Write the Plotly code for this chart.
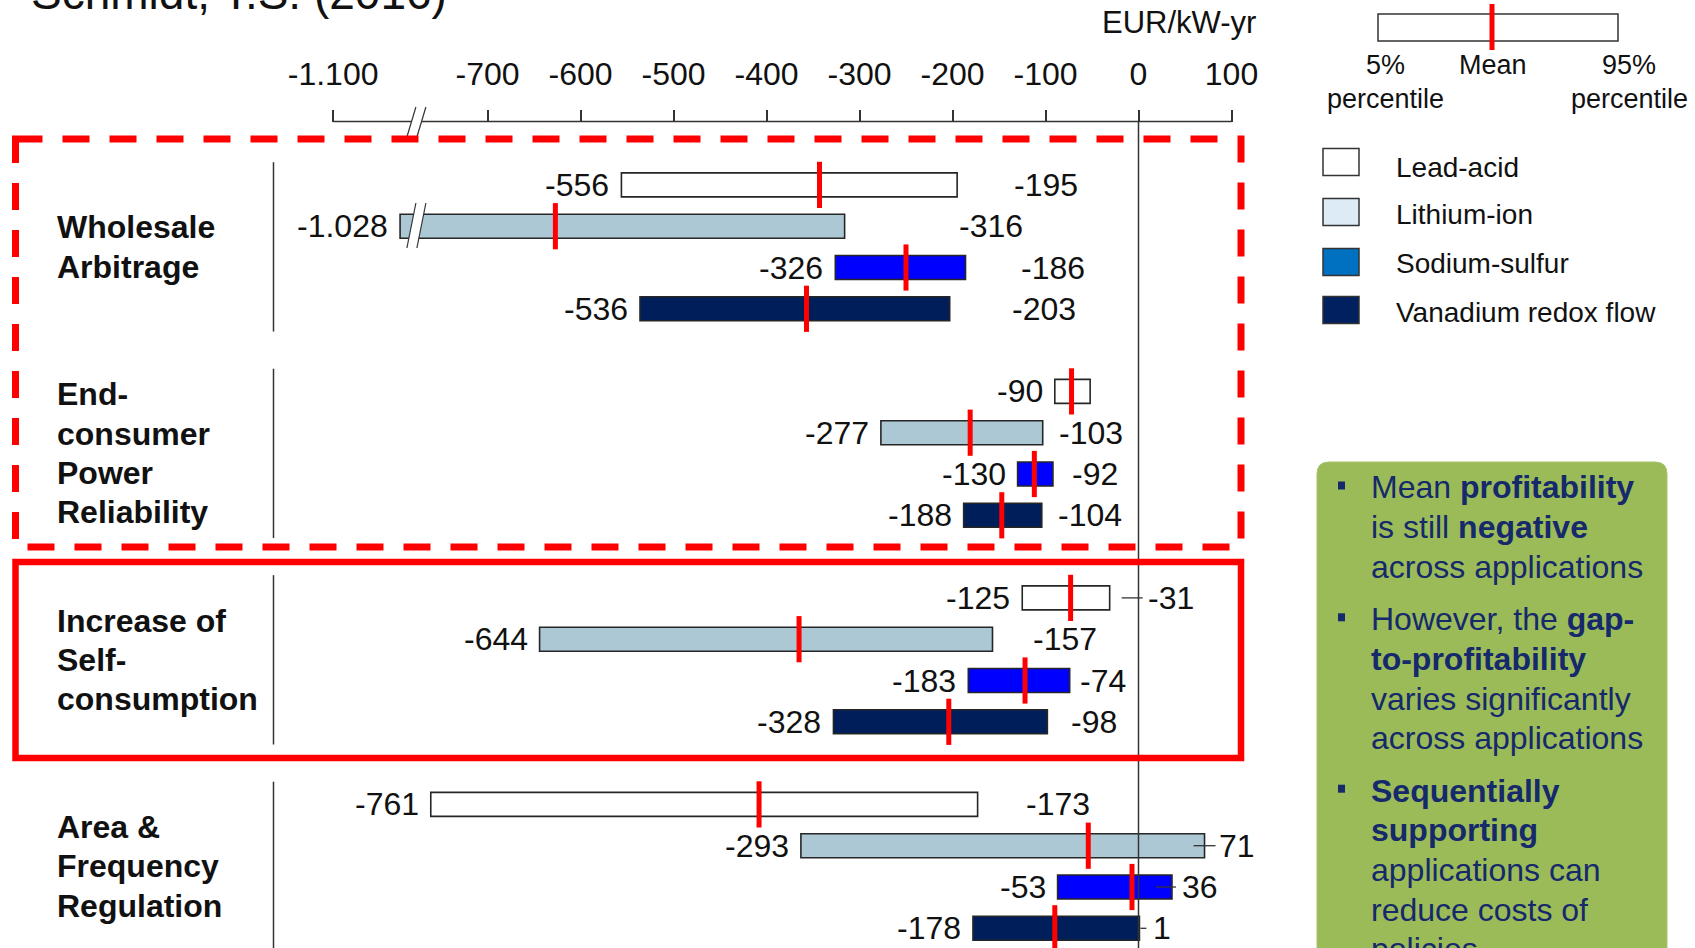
import plotly.graph_objects as go

W, H = 1695, 948
FONT = "Arial, 'Liberation Sans', Helvetica, sans-serif"
TXT = "#111111"

# ---------------- data ----------------
applications = ["Wholesale<br>Arbitrage",
                "End-<br>consumer<br>Power<br>Reliability",
                "Increase of<br>Self-<br>consumption",
                "Area &<br>Frequency<br>Regulation"]
technologies = ["Lead-acid", "Lithium-ion", "Sodium-sulfur", "Vanadium redox flow"]

# EUR/kW-yr : 5% percentile, mean, 95% percentile (one value per application)
lead_p5 = [-556, -90, -125, -761]
lead_mean = [-343, -72, -73, -408]
lead_p95 = [-195, -52, -31, -173]

li_p5 = [-1028, -277, -644, -293]
li_mean = [-627, -181, -365, -54]
li_p95 = [-316, -103, -157, 71]

na_p5 = [-326, -130, -183, -53]
na_mean = [-250, -112, -122, -7]
na_p95 = [-186, -92, -74, 36]

vrf_p5 = [-536, -188, -328, -178]
vrf_mean = [-357, -147, -204, -90]
vrf_p95 = [-203, -104, -98, 1]

# left bar ends as drawn in the source figure (two differ from their printed labels)
lead_bar_lo = [-556, -90, -125, -761]
li_bar_lo = [-1028, -277, -644, -363]
na_bar_lo = [-326, -130, -183, -87]
vrf_bar_lo = [-536, -188, -328, -178]

tick_values = [-1100, -700, -600, -500, -400, -300, -200, -100, 0, 100]
tick_labels = ["-1.100", "-700", "-600", "-500", "-400", "-300", "-200", "-100", "0", "100"]

summary_bullets = [
    ["Mean <b>profitability</b>", "is still <b>negative</b>", "across applications"],
    ["However, the <b>gap-</b>", "<b>to-profitability</b>", "varies significantly", "across applications"],
    ["<b>Sequentially</b>", "<b>supporting</b>", "applications can", "reduce costs of", "policies"],
]

# ---------------- styles / geometry ----------------
bar_fills = ["#FFFFFF", "#ADC8D5", "#0000FF", "#001E5A"]
legend_fills = ["#FFFFFF", "#DDEBF7", "#0070C0", "#002060"]
EDGE = "#262626"
RED = "#FF0000"

# gap (px) between bar end and right-hand label; None = label not shown
right_gap = [[56, None, 37, 47],
             [113, 15, 40, 13],
             [54, 18, 9, 9],
             [61, 15, 23, 13]]
# small leader ticks before some right labels (px offsets from bar end)
leaders = {(0, 2): (12, 33), (1, 3): (-11, 11), (2, 3): (-16, 4), (3, 3): (1, 7)}

X_ZERO_PX = 1138.5
PX_PER_UNIT = 0.93
ROW0_PX = 184.9
PX_PER_ROW = 41.3
BREAK_SHIFT = 234      # units cut out by the broken axis
BREAK_DISP = -777      # display position of the break


def disp(v):
    return v + BREAK_SHIFT if v <= -1000 else v


def fmt(v):
    return f"{v:,}".replace(",", ".")


def px(x):
    return x / W


def py(y):
    return 1 - y / H


def xd(xpix):
    return (xpix - X_ZERO_PX) / PX_PER_UNIT


def yd(ypix):
    return (ypix - ROW0_PX) / PX_PER_ROW


def row(g, t):
    return g * 5 + t


p5s = [lead_p5, li_p5, na_p5, vrf_p5]
means = [lead_mean, li_mean, na_mean, vrf_mean]
p95s = [lead_p95, li_p95, na_p95, vrf_p95]
bar_los = [lead_bar_lo, li_bar_lo, na_bar_lo, vrf_bar_lo]

fig = go.Figure()

for t in range(4):
    ys = [row(g, t) for g in range(4)]
    lo = [disp(v) for v in bar_los[t]]
    fig.add_trace(go.Bar(
        orientation="h", y=ys, base=lo,
        x=[h - l for h, l in zip(p95s[t], lo)],
        width=0.58,
        marker=dict(color=bar_fills[t], line=dict(color=EDGE, width=1.6)),
        name=technologies[t], showlegend=False, hoverinfo="skip"))

for t in range(4):
    ys = [row(g, t) for g in range(4)]
    fig.add_trace(go.Scatter(
        x=[disp(v) for v in means[t]], y=ys, mode="markers",
        marker=dict(symbol="line-ns", size=33, color=RED,
                    line=dict(color=RED, width=5)),
        name=technologies[t] + " mean", showlegend=False, hoverinfo="skip"))

shapes = []
ann = []

# axis line (top) and zero line
AXIS_Y = 121.5
shapes.append(dict(type="line", xref="x", yref="paper", x0=disp(tick_values[0]), x1=tick_values[-1],
                   y0=py(AXIS_Y), y1=py(AXIS_Y), line=dict(color="#333333", width=1.5)))
shapes.append(dict(type="line", xref="x", yref="paper", x0=0, x1=0,
                   y0=py(AXIS_Y), y1=0, line=dict(color="#333333", width=1.5)))

# axis break marks
bx = X_ZERO_PX + BREAK_DISP * PX_PER_UNIT


def break_marks(ytop, ybot, on_data, yfun):
    out = []
    a0, a1 = bx - 9, bx       # first slash bottom/top x
    b0, b1 = bx + 1, bx + 10  # second slash bottom/top x
    X = xd if on_data else px
    xr = "x" if on_data else "paper"
    yr = "y" if on_data else "paper"
    path = (f"M {X(a0)},{yfun(ybot)} L {X(a1)},{yfun(ytop)} "
            f"L {X(b1)},{yfun(ytop)} L {X(b0)},{yfun(ybot)} Z")
    out.append(dict(type="path", xref=xr, yref=yr, path=path,
                    fillcolor="white", line=dict(width=0)))
    for (p0, p1) in [(a0, a1), (b0, b1)]:
        out.append(dict(type="line", xref=xr, yref=yr, x0=X(p0), x1=X(p1),
                        y0=yfun(ybot), y1=yfun(ytop), line=dict(color="#333333", width=1.2)))
    return out


shapes += break_marks(107, 137, False, py)
shapes += break_marks(203, 248, True, yd)

# category separators
SEP_X = 273.5
for g in range(4):
    shapes.append(dict(type="line", xref="paper", yref="y", x0=px(SEP_X), x1=px(SEP_X),
                       y0=row(g, 0) - 0.55, y1=row(g, 3) + 0.55,
                       line=dict(color="#333333", width=1.5)))

# red highlight boxes
shapes.append(dict(type="rect", xref="paper", yref="paper", x0=px(15.5), x1=px(1241),
                   y0=py(139), y1=py(547), line=dict(color=RED, width=7, dash="27px,20px")))
shapes.append(dict(type="rect", xref="paper", yref="paper", x0=px(15.5), x1=px(1241),
                   y0=py(562), y1=py(758), line=dict(color=RED, width=6.5)))

# leader ticks
for (t, g), (o0, o1) in leaders.items():
    h = p95s[t][g]
    shapes.append(dict(type="line", xref="x", yref="y",
                       x0=h + o0 / PX_PER_UNIT, x1=h + o1 / PX_PER_UNIT,
                       y0=row(g, t), y1=row(g, t), line=dict(color="#333333", width=1.3)))

# value labels
lab_font = dict(family=FONT, size=32, color=TXT)
for t in range(4):
    for g in range(4):
        y = row(g, t)
        ann.append(dict(x=disp(bar_los[t][g]), y=y, xref="x", yref="y", text=fmt(p5s[t][g]),
                        xanchor="right", yanchor="middle", xshift=-11, showarrow=False,
                        font=lab_font, borderpad=0))
        gap = right_gap[t][g]
        if gap is not None:
            ann.append(dict(x=p95s[t][g], y=y, xref="x", yref="y", text=fmt(p95s[t][g]),
                            xanchor="left", yanchor="middle", xshift=gap, showarrow=False,
                            font=lab_font, borderpad=0))

# application labels (bold, left)
LINE_STEP = 39.3 / PX_PER_ROW
for g, label in enumerate(applications):
    lines = label.split("<br>")
    n = len(lines)
    c = g * 5 + 1.5
    for i, ln in enumerate(lines):
        ann.append(dict(x=px(56), y=c + (i - (n - 1) / 2) * LINE_STEP, xref="paper", yref="y",
                        text=f"<b>{ln}</b>", xanchor="left", yanchor="middle", showarrow=False,
                        font=dict(family=FONT, size=32, color=TXT), borderpad=0))

# unit label
ann.append(dict(x=px(1257), y=py(22), xref="paper", yref="paper", text="EUR/kW-yr",
                xanchor="right", yanchor="middle", showarrow=False,
                font=dict(family=FONT, size=31, color=TXT), borderpad=0))

# source title (cut at the top edge, as in the original)
ann.append(dict(x=px(448), y=py(-6.5), xref="paper", yref="paper", text="Schmidt, T.S. (2016)",
                xanchor="right", yanchor="middle", showarrow=False,
                font=dict(family=FONT, size=46, color=TXT), borderpad=0))

# legend
LEG_BOX_Y = [162, 212, 262, 310]
LEG_TXT_Y = [167, 215, 264, 312]
for t in range(4):
    shapes.append(dict(type="rect", xref="paper", yref="paper", x0=px(1323), x1=px(1359),
                       y0=py(LEG_BOX_Y[t] - 13.5), y1=py(LEG_BOX_Y[t] + 13.5),
                       fillcolor=legend_fills[t], line=dict(color="#333333", width=1.5)))
    ann.append(dict(x=px(1395), y=py(LEG_TXT_Y[t]), xref="paper", yref="paper", text=technologies[t],
                    xanchor="left", yanchor="middle", showarrow=False,
                    font=dict(family=FONT, size=28, color=TXT), borderpad=0))

# key (5% / mean / 95%)
shapes.append(dict(type="rect", xref="paper", yref="paper", x0=px(1378), x1=px(1618),
                   y0=py(14), y1=py(41), fillcolor="white", line=dict(color="#333333", width=1.5)))
shapes.append(dict(type="line", xref="paper", yref="paper", x0=px(1492), x1=px(1492),
                   y0=py(4), y1=py(50), line=dict(color=RED, width=5)))
for text, x, y in [("5%", 1385, 65), ("percentile", 1385, 99), ("Mean", 1493, 65),
                   ("95%", 1629, 65), ("percentile", 1629, 99)]:
    ann.append(dict(x=px(x), y=py(y), xref="paper", yref="paper", text=text,
                    xanchor="center", yanchor="middle", showarrow=False,
                    font=dict(family=FONT, size=27, color=TXT), borderpad=0))


# green summary box
def P(x, y):
    return f"{px(x):.5f},{py(y):.5f}"


gx0, gx1, gy0, gy1, r = 1317, 1667, 462, 975, 12
shapes.append(dict(type="path", xref="paper", yref="paper",
                   path=(f"M {P(gx0, gy1)} L {P(gx0, gy0 + r)} Q {P(gx0, gy0)} {P(gx0 + r, gy0)} "
                         f"L {P(gx1 - r, gy0)} Q {P(gx1, gy0)} {P(gx1, gy0 + r)} L {P(gx1, gy1)} Z"),
                   fillcolor="#9BBB59", line=dict(color="#A9C46C", width=1)))
NAVY = "#15296B"
yline = 487.5
for bullet in summary_bullets:
    shapes.append(dict(type="rect", xref="paper", yref="paper", x0=px(1338), x1=px(1345),
                       y0=py(yline - 6), y1=py(yline + 2), fillcolor=NAVY, line=dict(width=0)))
    for ln in bullet:
        ann.append(dict(x=px(1370), y=py(yline), xref="paper", yref="paper", text=ln,
                        xanchor="left", yanchor="middle", showarrow=False,
                        font=dict(family=FONT, size=32, color=NAVY), borderpad=0))
        yline += 39.6
    yline += 13

fig.update_layout(
    width=W, height=H, margin=dict(l=0, r=0, t=0, b=0),
    paper_bgcolor="white", plot_bgcolor="white",
    barmode="overlay", showlegend=False,
    xaxis=dict(range=[-X_ZERO_PX / PX_PER_UNIT, (W - X_ZERO_PX) / PX_PER_UNIT], domain=[0, 1],
               anchor="free", position=py(AXIS_Y), side="top",
               tickmode="array", tickvals=[disp(v) for v in tick_values], ticktext=tick_labels,
               ticks="outside", ticklen=12, tickwidth=1.5, tickcolor="#333333",
               showline=False, showgrid=False, zeroline=False,
               tickfont=dict(family=FONT, size=32, color=TXT), ticklabelstandoff=12),
    yaxis=dict(range=[(H - ROW0_PX) / PX_PER_ROW, -ROW0_PX / PX_PER_ROW], domain=[0, 1],
               visible=False, showgrid=False, zeroline=False),
    shapes=shapes, annotations=ann,
)

fig.write_html("out.html")
